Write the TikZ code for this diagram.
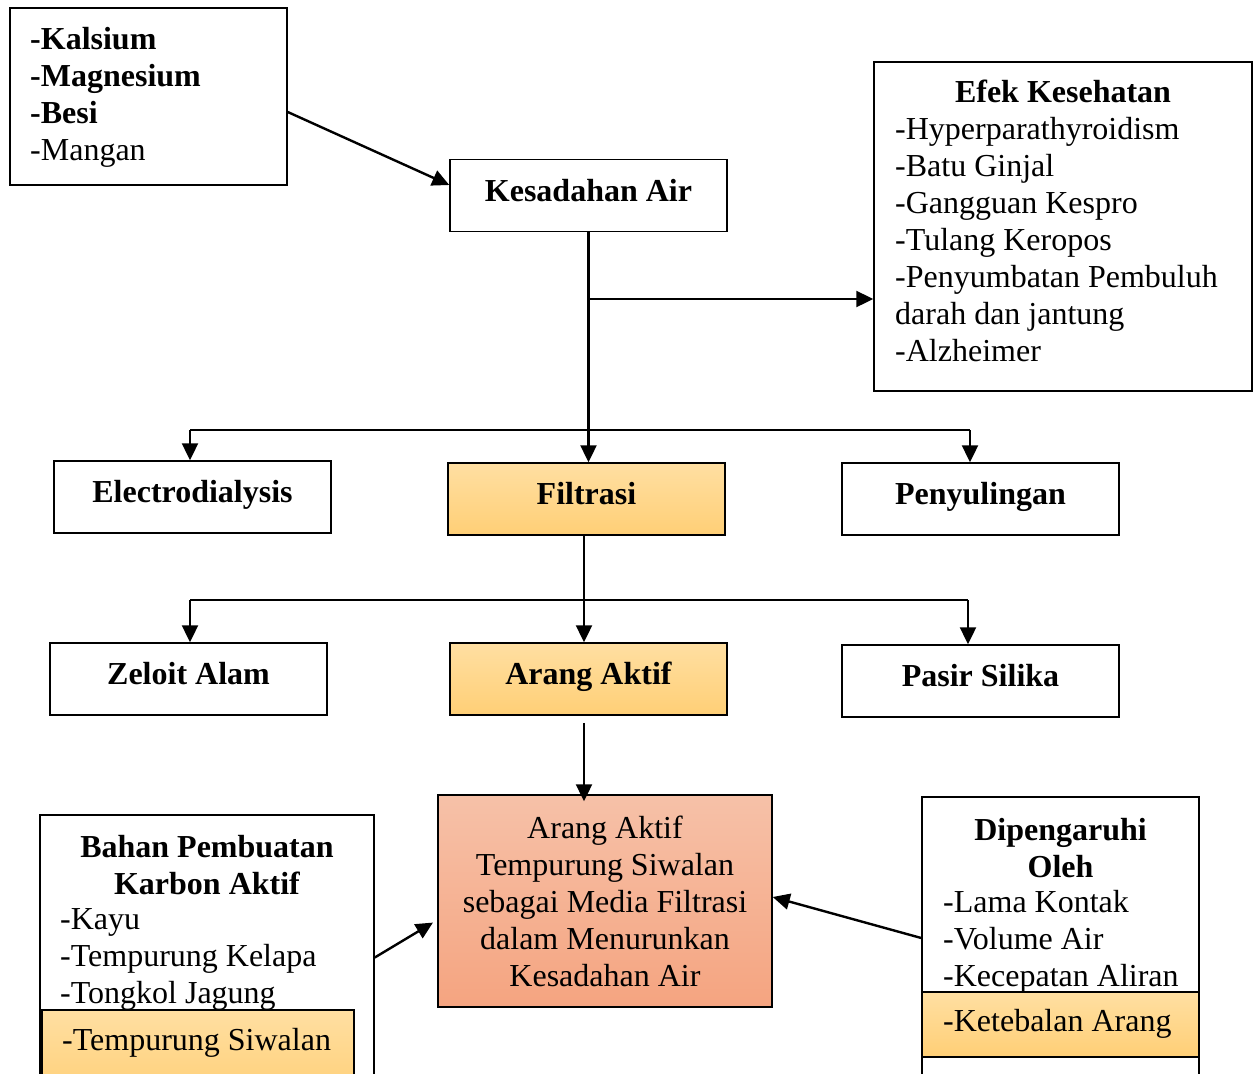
\documentclass[tikz,border=0pt]{standalone}
\usepackage{fontspec}
\setmainfont{Liberation Serif}
\usetikzlibrary{arrows.meta, positioning, calc}
\definecolor{orgtop}{RGB}{255,223,162}
\definecolor{orgbot}{RGB}{255,207,118}
\definecolor{saltop}{RGB}{246,193,168}
\definecolor{salbot}{RGB}{245,164,128}
\tikzset{
  box/.style={draw, line width=1.5pt, inner sep=0pt},
  smallbox/.style={box, minimum width=277pt, minimum height=72pt, text height=22pt, text depth=11pt, font=\fontsize{32}{37}\selectfont\bfseries},
  orgfill/.style={top color=orgtop, bottom color=orgbot},
  txt/.style={inner sep=0pt, anchor=north west, align=left},
  ttl/.style={inner sep=0pt, anchor=north, align=center, font=\fontsize{32}{37}\selectfont\bfseries},
  arr/.style={-{Triangle[length=17pt,width=16pt]}, line width=2.4pt},
  branch/.style={line width=1.3pt},
}
\begin{document}
\begin{tikzpicture}[x=1pt, y=-1pt, font=\fontsize{32}{37}\selectfont]
\path[use as bounding box, fill=white] (0,0) rectangle (1259,1074);

% top row
\node[box, minimum width=277pt, minimum height=177pt] (mineral) at (148.5,96.5) {};
\node[txt] (minlist) at (30,27) {\textbf{-Kalsium}\\\textbf{-Magnesium}\\\textbf{-Besi}\\-Mangan};
\node[smallbox] (kes) at (588.5,195.5) {Kesadahan Air};
\node[box, minimum width=378pt, minimum height=329pt] (efek) at (1063,226.5) {};
\node[ttl] (efekttl) at (1063,80) {Efek Kesehatan};
\node[txt] (efeklist) at (895,117) {-Hyperparathyroidism\\-Batu Ginjal\\-Gangguan Kespro\\-Tulang Keropos\\-Penyumbatan Pembuluh\\darah dan jantung\\-Alzheimer};

% methods
\node[smallbox] (elec) at (192.5,497) {Electrodialysis};
\node[smallbox, orgfill] (filt) at (586.5,499) {Filtrasi};
\node[smallbox] (peny) at (980.5,499) {Penyulingan};

% media
\node[smallbox] (zeo) at (188.5,679) {Zeloit Alam};
\node[smallbox, orgfill] (arang) at (588.5,679) {Arang Aktif};
\node[smallbox] (pasir) at (980.5,681) {Pasir Silika};

% bottom row
\node[box, top color=saltop, bottom color=salbot, minimum width=334pt, minimum height=212pt, align=center] (main) at (605,901) {Arang Aktif\\Tempurung Siwalan\\sebagai Media Filtrasi\\dalam Menurunkan\\Kesadahan Air};
\node[box, minimum width=334pt, minimum height=285pt] (bahan) at (207,957.5) {};
\node[ttl] (bahanttl) at (207,835) {Bahan Pembuatan\\Karbon Aktif};
\node[txt] (bahanlist) at (60,908) {-Kayu\\-Tempurung Kelapa\\-Tongkol Jagung};
\node[box, orgfill, minimum width=312pt, minimum height=90pt] (siwalan) at (198,1055) {};
\node[txt] (siwalantxt) at (62,1028) {-Tempurung Siwalan};
\node[box, minimum width=277pt, minimum height=303pt] (dip) at (1060.5,948.5) {};
\node[ttl] (dipttl) at (1060.5,818) {Dipengaruhi\\Oleh};
\node[txt] (diplist) at (943,890) {-Lama Kontak\\-Volume Air\\-Kecepatan Aliran};
\node[box, orgfill, minimum width=277pt, minimum height=65pt] (tebal) at (1060.5,1024.5) {};
\node[txt] (tebaltxt) at (943,1009) {-Ketebalan Arang};

% connectors
\draw[arr] ([yshift=-15.5pt]mineral.east) -- ([yshift=10.5pt]kes.west);
\draw[arr] (kes.south) -- (kes.south |- filt.north);
\coordinate (kesbr) at (588.5,299);
\draw[arr] (kesbr) -- (kesbr -| efek.west);
\coordinate (row1l) at (190,430);
\coordinate (row1r) at (970,430);
\draw[branch] (row1l) -- (row1r);
\draw[arr] (row1l) -- (row1l |- elec.north);
\draw[arr] (row1r) -- (row1r |- peny.north);
\draw[arr] ([xshift=-2.5pt]filt.south) -- ([xshift=-2.5pt]filt.south |- arang.north);
\coordinate (row2l) at (190,600);
\coordinate (row2r) at (968,600);
\draw[branch] (row2l) -- (row2r);
\draw[arr] (row2l) -- (row2l |- zeo.north);
\draw[arr] (row2r) -- (row2r |- pasir.north);
\draw[arr] ([xshift=-4.5pt,yshift=-7pt]arang.south) -- ([xshift=-4.5pt,yshift=-7pt]arang.south |- main.north);
\draw[arr, shorten >=5pt] (bahan.east) -- ([yshift=-19pt]main.west);
\draw[arr] ([yshift=10.5pt]dip.west) -- ([yshift=4pt]main.east);
\end{tikzpicture}
\end{document}
